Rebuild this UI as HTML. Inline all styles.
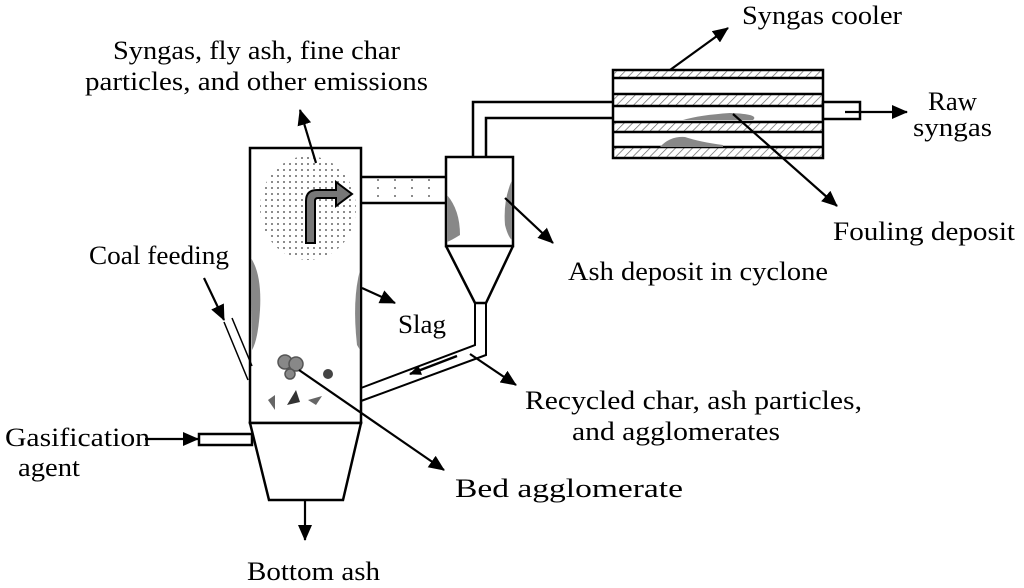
<!DOCTYPE html>
<html><head><meta charset="utf-8"><style>
html,body{margin:0;padding:0;background:#fff;width:1024px;height:588px;overflow:hidden}
text{font-family:"Liberation Serif",serif;font-size:26px;fill:#000}
</style></head><body>
<svg width="1024" height="588" viewBox="0 0 1024 588" xmlns="http://www.w3.org/2000/svg">
<defs>
<marker id="ahb" markerWidth="16" markerHeight="14" refX="15" refY="7" orient="auto" markerUnits="userSpaceOnUse" viewBox="0 0 16 14">
<path d="M0,0 L16,7 L0,14 z" fill="#000"/></marker>
<marker id="ah" markerWidth="12" markerHeight="10" refX="11" refY="5" orient="auto" markerUnits="userSpaceOnUse" viewBox="0 0 12 10">
<path d="M0,0 L12,5 L0,10 z" fill="#000"/></marker>
<pattern id="dots" width="6" height="6" patternUnits="userSpaceOnUse"><circle cx="2" cy="2" r="1" fill="#666"/></pattern>
<pattern id="dots2" width="17" height="8" patternUnits="userSpaceOnUse"><circle cx="4" cy="4" r="1" fill="#666"/></pattern>
<pattern id="hatch" width="6" height="6" patternUnits="userSpaceOnUse" patternTransform="rotate(45)"><line x1="0" y1="0" x2="0" y2="6" stroke="#666" stroke-width="1.4"/></pattern>
</defs>
<g stroke="#000" stroke-width="2.5" fill="none">
<rect x="250" y="148" width="111" height="275" fill="#fff"/>
<ellipse cx="308" cy="208" rx="48" ry="52" fill="url(#dots)" stroke="none"/>
<path d="M250,423 L361,423 L343,500 L269,500 Z" fill="#fff"/>
<rect x="199" y="434" width="53" height="11" fill="#fff"/>
<path d="M361,177 L446,177 M361,203 L446,203"/>
<rect x="363" y="179" width="82" height="22" fill="url(#dots2)" stroke="none"/>
<path d="M446,246 L475,303 L486,303 L513,246" fill="#fff"/>
<rect x="446" y="157" width="67" height="89" fill="#fff"/>
<path d="M475,303 L475,345 L361,388 M486,303 L486,355 L361,401" stroke-width="2"/>
<path d="M473,157 L473,102 L613,102 M486,157 L486,118 L613,118"/>
<path d="M474,110 L474,156" stroke="none"/>
<rect x="613" y="70" width="210" height="88" fill="#fff"/>
<rect x="614" y="71" width="208" height="7" fill="url(#hatch)" stroke="none"/>
<rect x="614" y="94" width="208" height="12" fill="url(#hatch)" stroke="none"/>
<rect x="614" y="122" width="208" height="10" fill="url(#hatch)" stroke="none"/>
<rect x="614" y="147" width="208" height="10" fill="url(#hatch)" stroke="none"/>
<path d="M613,78 L823,78 M613,94 L823,94 M613,106 L823,106 M613,122 L823,122 M613,132 L823,132 M613,147 L823,147"/>
<rect x="823" y="102" width="37" height="17" fill="#fff"/>
</g>
<g fill="#888" stroke="none">
<path d="M683,120 Q700,115 730,113 Q760,114 753,120 Z"/>
<path d="M660,147 Q670,136 685,137 Q700,142 723,145 L723,147 Z"/>
<path d="M447,195 Q460,210 460,235 Q452,240 447,242 Z"/>
<path d="M512,180 Q503,200 505,225 Q508,237 512,240 Z"/>
<path d="M251,258 Q262,275 260,310 Q258,340 252,350 Z"/>
<path d="M360,270 Q352,300 357,345 L360,350 Z"/>
<circle cx="285" cy="362" r="7" stroke="#555" stroke-width="1.5"/>
<circle cx="296" cy="364" r="7" stroke="#555" stroke-width="1.5"/>
<circle cx="290" cy="374" r="5" stroke="#555" stroke-width="1.5"/>
<circle cx="328" cy="374" r="5" fill="#444"/>
<path d="M268,400 L275,395 L275,410 Z" fill="#666"/>
<path d="M287,405 L296,390 L300,402 Z" fill="#333"/>
<path d="M308,400 L322,396 L316,405 Z" fill="#666"/>
</g>
<path d="M306,243 L306,201 Q306,190 317,190 L336,190 L336,182 L352,194 L336,206 L336,198 L318,198 Q315,198 315,201 L315,243 Z" fill="#777" stroke="#000" stroke-width="2"/>
<line x1="457" y1="356" x2="410" y2="374" stroke="#000" stroke-width="2.5" marker-end="url(#ah)"/>
<g stroke="#000" stroke-width="2.2" fill="none">
<line x1="316" y1="163" x2="300" y2="110" marker-end="url(#ahb)"/>
<line x1="670" y1="70" x2="728" y2="28" marker-end="url(#ahb)"/>
<line x1="845" y1="112" x2="907" y2="112" marker-end="url(#ahb)"/>
<line x1="733" y1="114" x2="837" y2="206" marker-end="url(#ahb)"/>
<line x1="505" y1="198" x2="553" y2="243" marker-end="url(#ahb)"/>
<line x1="362" y1="288" x2="395" y2="303" marker-end="url(#ahb)"/>
<line x1="470" y1="354" x2="516" y2="385" marker-end="url(#ahb)"/>
<line x1="299" y1="370" x2="444" y2="470" marker-end="url(#ahb)"/>
<line x1="145" y1="439" x2="198" y2="439" marker-end="url(#ahb)"/>
<line x1="305" y1="500" x2="305" y2="540" marker-end="url(#ahb)"/>
<line x1="204" y1="278" x2="224" y2="320" marker-end="url(#ahb)"/>
<path d="M224,322 L248,380 M232,318 L252,366" stroke-width="1.5"/>
</g>
<g>
<text x="113" y="59" textLength="287" lengthAdjust="spacingAndGlyphs">Syngas, fly ash, fine char</text>
<text x="85" y="90" textLength="343" lengthAdjust="spacingAndGlyphs">particles, and other emissions</text>
<text x="742" y="24" textLength="160" lengthAdjust="spacingAndGlyphs">Syngas cooler</text>
<text x="928" y="110" textLength="49" lengthAdjust="spacingAndGlyphs">Raw</text>
<text x="913" y="136" textLength="79" lengthAdjust="spacingAndGlyphs">syngas</text>
<text x="833" y="240" textLength="182" lengthAdjust="spacingAndGlyphs">Fouling deposit</text>
<text x="568" y="280" textLength="260" lengthAdjust="spacingAndGlyphs">Ash deposit in cyclone</text>
<text x="89" y="264" textLength="140" lengthAdjust="spacingAndGlyphs">Coal feeding</text>
<text x="398" y="333" textLength="48" lengthAdjust="spacingAndGlyphs">Slag</text>
<text x="525" y="409" textLength="337" lengthAdjust="spacingAndGlyphs">Recycled char, ash particles,</text>
<text x="572" y="440" textLength="208" lengthAdjust="spacingAndGlyphs">and agglomerates</text>
<text x="5" y="446" textLength="145" lengthAdjust="spacingAndGlyphs">Gasification</text>
<text x="18" y="476" textLength="62" lengthAdjust="spacingAndGlyphs">agent</text>
<text x="455" y="497" textLength="228" lengthAdjust="spacingAndGlyphs">Bed agglomerate</text>
<text x="247" y="580" textLength="133" lengthAdjust="spacingAndGlyphs">Bottom ash</text>
</g>
</svg>
</body></html>
